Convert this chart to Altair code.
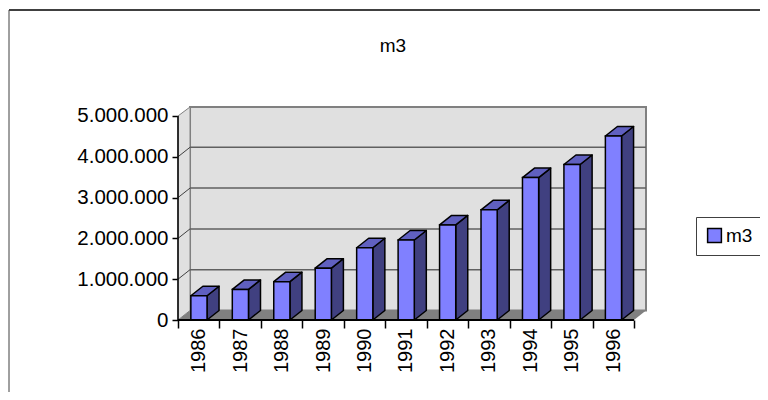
import altair as alt
import pandas as pd

years = [1986, 1987, 1988, 1989, 1990, 1991, 1992, 1993, 1994, 1995, 1996]
values = [595000, 750000, 940000, 1270000, 1770000, 1960000, 2330000, 2700000, 3490000, 3810000, 4510000]
grid_values = [0, 1000000, 2000000, 3000000, 4000000, 5000000]

# Depth of the oblique wall, in data units of each scale
DX = 0.29
DY = 233000
XMAX = 11 + DX
YMAX = 5220000
GAP = 0.31
BARW = 0.39

rows, side, top = [], [], []
for i, (yr, v) in enumerate(zip(years, values)):
    x0 = i + GAP
    x1 = x0 + BARW
    rows.append(dict(year=yr, x0=x0, x1=x1, v=v, series="m3"))
    side += [dict(year=yr, x=x1, lo=0, hi=v), dict(year=yr, x=x1 + DX, lo=DY, hi=v + DY)]
    top += [dict(year=yr, x=x0, lo=v, hi=v), dict(year=yr, x=x0 + DX, lo=v, hi=v + DY),
            dict(year=yr, x=x1, lo=v, hi=v + DY), dict(year=yr, x=x1 + DX, lo=v + DY, hi=v + DY)]

bars = pd.DataFrame(rows)
x_scale = alt.Scale(domain=[0, XMAX], nice=False, zero=False)
y_scale = alt.Scale(domain=[0, YMAX], nice=False)

x_axis = alt.Axis(values=list(range(12)), domain=False, grid=False, tickColor="black", tickSize=8,
                  tickWidth=1.5, title=None,
                  labelExpr="datum.value < 11 ? toString(1986 + datum.value) : ''",
                  labelAngle=-90, labelAlign="right", labelBaseline="middle",
                  labelOffset=20.7, labelPadding=0, labelFontSize=20,
                  labelFont="Liberation Sans", labelColor="black", labelOverlap=False)
y_axis = alt.Axis(values=grid_values, domain=False, grid=False, tickColor="black", title=None,
                  tickSize=6, tickWidth=1.5, labelPadding=4, labelFontSize=20.5,
                  labelFont="Liberation Sans", labelColor="black",
                  labelExpr="replace(format(datum.value, ','), regexp(',', 'g'), '.')")


def X(field):
    return alt.X(field, scale=x_scale, axis=x_axis)


def Y(field):
    return alt.Y(field, scale=y_scale, axis=y_axis)


WALL = "#e0e0e0"
EDGE = "#808080"

back = alt.Chart(pd.DataFrame([dict(x=DX, x2=XMAX, lo=DY, hi=YMAX)])).mark_rect(
    fill=WALL, stroke=EDGE, strokeWidth=2
).encode(x=X("x:Q"), x2="x2:Q", y=Y("lo:Q"), y2="hi:Q")

left_wall = alt.Chart(pd.DataFrame([dict(x=0, lo=0, hi=5000000), dict(x=DX, lo=DY, hi=YMAX)])).mark_area(
    fill=WALL, stroke=EDGE, strokeWidth=1, orient="vertical"
).encode(x=X("x:Q"), y=Y("lo:Q"), y2="hi:Q")

floor = alt.Chart(pd.DataFrame([dict(x=0, lo=0, hi=0), dict(x=DX, lo=0, hi=DY), dict(x=11, lo=0, hi=DY),
                                dict(x=XMAX, lo=DY, hi=DY)])).mark_area(
    fill=EDGE, orient="vertical"
).encode(x=X("x:Q"), y=Y("lo:Q"), y2="hi:Q")

grid_df = pd.DataFrame([dict(v=v, a=DX, b=XMAX, lvl=v + DY) for v in grid_values[1:-1]])
grid = alt.Chart(grid_df).mark_rule(color="#606060", strokeWidth=1.5).encode(
    x=X("a:Q"), x2="b:Q", y=Y("lvl:Q"))

side_lines = []
for v in grid_values[1:-1]:
    side_lines += [dict(v=v, x=0, y=v), dict(v=v, x=DX, y=v + DY)]
grid_side = alt.Chart(pd.DataFrame(side_lines)).mark_line(color="#404040", strokeWidth=1).encode(
    x=X("x:Q"), y=Y("y:Q"), detail="v:Q")

left_axis = alt.Chart(pd.DataFrame([dict(x=0, a=0, b=5000000)])).mark_rule(color="black", strokeWidth=1.5).encode(
    x=X("x:Q"), y=Y("a:Q"), y2="b:Q")
base_axis = alt.Chart(pd.DataFrame([dict(a=0, b=11, y=0)])).mark_rule(color="black", strokeWidth=2).encode(
    x=X("a:Q"), x2="b:Q", y=Y("y:Q"))


def face(data, color):
    return alt.Chart(pd.DataFrame(data)).mark_area(
        fill=color, stroke="black", strokeWidth=1.5, strokeJoin="round", orient="vertical"
    ).encode(x=X("x:Q"), y=Y("lo:Q"), y2="hi:Q", detail="year:O")


side_face = face(side, "#404080")
top_face = face(top, "#6060c0")

front = alt.Chart(bars).mark_bar(stroke="black", strokeWidth=1.5).encode(
    x=X("x0:Q"), x2="x1:Q", y=Y("v:Q"), y2=alt.datum(0),
    color=alt.Color("series:N", scale=alt.Scale(domain=["m3"], range=["#8080ff"]),
                    legend=alt.Legend(title=None, orient="none", legendX=518, legendY=110,
                                      fillColor="white", strokeColor="#404040", padding=9,
                                      symbolType="square", symbolSize=190, symbolStrokeColor="black",
                                      symbolStrokeWidth=1.5, labelFontSize=19, labelOffset=2,
                                      labelFont="Liberation Sans", labelColor="black")),
)

# Outer frame, placed in pixels relative to the plot area
frame_top = alt.Chart(pd.DataFrame([dict(k=1)])).mark_rule(color="black", strokeWidth=1.5).encode(
    x=alt.value(-169), x2=alt.value(582), y=alt.value(-97))
frame_left = alt.Chart(pd.DataFrame([dict(k=1)])).mark_rule(color="#404040", strokeWidth=1).encode(
    x=alt.value(-169), y=alt.value(-97), y2=alt.value(285))

chart = alt.layer(
    back, floor, left_wall, grid, grid_side, left_axis, side_face, top_face, front, base_axis,
    frame_top, frame_left
).properties(
    width=468, height=213,
    padding={"left": 170, "top": 99, "right": 114, "bottom": 72},
    autosize=alt.AutoSizeParams(type="none"),
    title=alt.TitleParams("m3", anchor="middle", fontSize=19, fontWeight="normal",
                          font="Liberation Sans", color="black", offset=0, dx=-19, dy=47),
).configure_view(stroke=None)

chart.save("out.html", embed_options={"renderer": "svg", "actions": False})
